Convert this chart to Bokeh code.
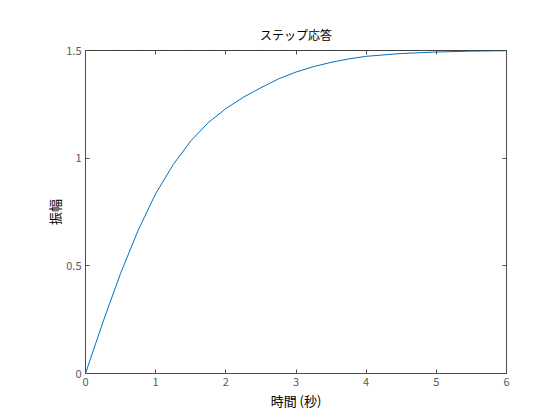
from bokeh.plotting import figure
from bokeh.models import LinearAxis, Span, FixedTicker, Range1d, CustomLabelingPolicy
from bokeh.embed import file_html
from bokeh.resources import INLINE

# Data (step response)
t_values = [0.0, 0.25, 0.5, 0.75, 1.0, 1.25, 1.5, 1.75, 2.0, 2.25, 2.5, 2.75,
            3.0, 3.25, 3.5, 3.75, 4.0, 4.5, 5.0, 5.5, 6.0]
amplitude = [0.0, 0.24, 0.465, 0.665, 0.835, 0.97, 1.08, 1.165, 1.23, 1.283, 1.327, 1.368,
             1.40, 1.425, 1.445, 1.461, 1.473, 1.486, 1.493, 1.497, 1.499]
steady_state = 1.5
x_ticks = [0, 1, 2, 3, 4, 5, 6]
y_ticks = [0, 0.5, 1, 1.5]
y_tick_labels = ["0", "0.5", "1", "1.5"]

title_text = "ステップ応答"
x_label = "時間 (秒)"
y_label = "振幅"

FONT = "Noto Sans CJK JP"
AXC = "#4d4d4d"

p = figure(width=552, height=412, output_backend="svg", toolbar_location=None,
           x_range=Range1d(0, 6), y_range=Range1d(0, 1.5),
           min_border_left=85, min_border_right=46, min_border_top=50, min_border_bottom=38)
p.background_fill_color = "white"
p.border_fill_color = "white"
p.outline_line_color = AXC
p.outline_line_width = 1
p.grid.visible = False

p.title.text = title_text
p.title.align = "center"
p.title.text_font = FONT
p.title.text_font_size = "12px"
p.title.text_font_style = "normal"
p.title.text_color = "black"
p.title.offset = 0
p.title.standoff = -7

no_labels = CustomLabelingPolicy(code="""
const all = [...indices]
for (const i of all) indices.unset(i)
return indices
""")

def style_axis(ax, labels=True):
    ax.axis_line_color = AXC
    ax.major_tick_line_color = AXC
    ax.major_tick_in = 4
    ax.major_tick_out = 0
    ax.minor_tick_line_color = None
    ax.major_label_text_font = FONT
    ax.major_label_text_font_size = "11px"
    ax.major_label_text_color = "#5a5a5a"
    ax.major_label_standoff = 4
    ax.axis_label_text_font = FONT
    ax.axis_label_text_font_size = "13px"
    ax.axis_label_text_font_style = "normal"
    ax.axis_label_text_color = "black"
    if not labels:
        ax.major_label_policy = no_labels
        ax.major_label_standoff = 0

p.xaxis.ticker = FixedTicker(ticks=x_ticks)
p.yaxis.ticker = FixedTicker(ticks=y_ticks)
p.yaxis.major_label_overrides = {v: s for v, s in zip(y_ticks, y_tick_labels)}
style_axis(p.xaxis[0])
style_axis(p.yaxis[0])
p.xaxis.axis_label = x_label
p.yaxis.axis_label = y_label
p.xaxis.axis_label_standoff = 2
p.yaxis.axis_label_standoff = -1

top_ax = LinearAxis(ticker=FixedTicker(ticks=x_ticks))
style_axis(top_ax, labels=False)
top_ax.axis_line_color = None
p.add_layout(top_ax, "above")

right_ax = LinearAxis(ticker=FixedTicker(ticks=y_ticks))
style_axis(right_ax, labels=False)
p.add_layout(right_ax, "right")

p.line(t_values, amplitude, line_color="#0072BD", line_width=1)
p.add_layout(Span(location=steady_state, dimension="width", line_color="black",
                  line_dash="1 2", line_width=1))

open("out.html", "w").write(file_html(p, INLINE))
